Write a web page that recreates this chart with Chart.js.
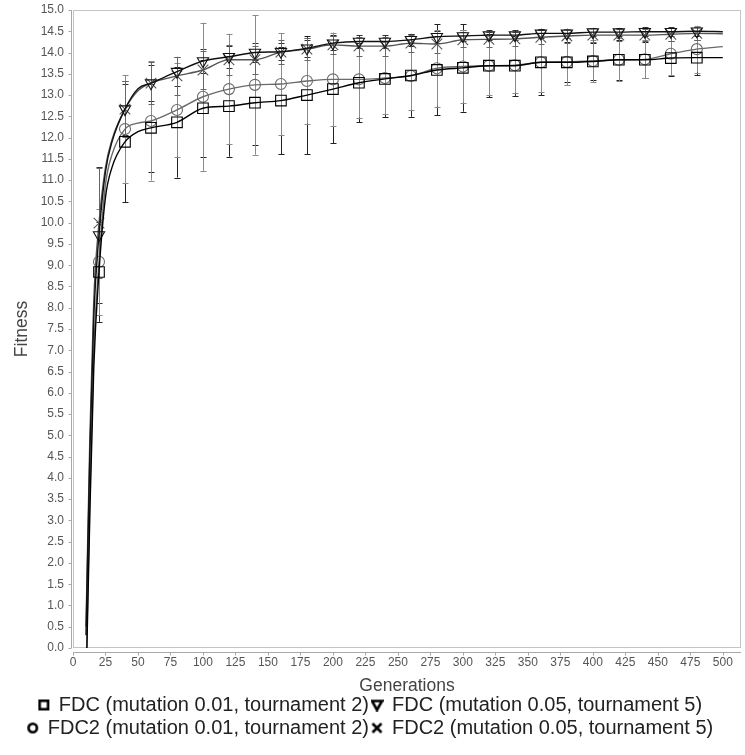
<!DOCTYPE html>
<html>
<head>
<meta charset="utf-8">
<script src="https://cdn.jsdelivr.net/npm/chart.js@4.4.1/dist/chart.umd.min.js"></script>
<style>
  html, body { margin: 0; padding: 0; background: #fff; }
  #wrap { width: 745px; height: 755px; }
</style>
</head>
<body>
<div id="wrap"><canvas id="chart" width="745" height="755"></canvas></div>
<script>
// generations where each curve is sampled
const gens = [10, 13, 16, 20, 25, 30, 40, 50, 60, 80, 100, 120, 140, 160, 180, 200, 220, 240,
  260, 280, 300, 320, 340, 360, 380, 400, 420, 440, 460, 480, 500];

// mean best fitness per generation
const fdcMut01 = [-1.0, 3.2, 6.6, 8.84, 10.6, 11.3, 11.9, 12.14, 12.23, 12.36, 12.69, 12.74, 12.82, 12.87,
  13.0, 13.14, 13.29, 13.38, 13.46, 13.59, 13.64, 13.69, 13.69, 13.77, 13.77, 13.79, 13.83, 13.83, 13.87, 13.88, 13.88];
const fdcMut05 = [0.3, 4.6, 7.8, 9.71, 11.2, 11.9, 12.67, 13.15, 13.28, 13.55, 13.8, 13.9, 14.0, 14.02,
  14.1, 14.22, 14.26, 14.26, 14.3, 14.37, 14.39, 14.41, 14.41, 14.45, 14.45, 14.48, 14.48, 14.49, 14.49, 14.5, 14.49];
const fdc2Mut01 = [-0.8, 3.6, 7.0, 9.08, 10.9, 11.6, 12.2, 12.34, 12.39, 12.65, 12.96, 13.14, 13.24, 13.26,
  13.33, 13.37, 13.37, 13.4, 13.45, 13.63, 13.67, 13.69, 13.7, 13.77, 13.78, 13.8, 13.83, 13.84, 13.97, 14.08, 14.14];
const fdc2Mut05 = [0.5, 5.0, 8.2, 9.99, 11.3, 11.95, 12.67, 13.1, 13.28, 13.45, 13.59, 13.83, 13.83, 14.01,
  14.08, 14.18, 14.15, 14.15, 14.22, 14.2, 14.3, 14.31, 14.32, 14.36, 14.39, 14.41, 14.41, 14.41, 14.43, 14.45, 14.44];

// standard deviation at the marked generations (20, 40, ... 480)
const markerGens = [20, 40, 60, 80, 100, 120, 140, 160, 180, 200, 220, 240, 260, 280, 300, 320, 340, 360, 380, 400, 420, 440, 460, 480];
const sdFdcMut01 = [1.17, 1.42, 1.03, 1.3, 1.14, 1.19, 1.0, 1.26, 1.39, 1.27, 0.93, 0.9, 0.97, 1.07, 1.03, 0.74, 0.71, 0.78, 0.47, 0.43, 0.47, 0.42, 0.41, 0.41];
const sdFdcMut05 = [1.6, 0.6, 0.43, 0.34, 0.28, 0.26, 0.22, 0.2, 0.2, 0.16, 0.15, 0.15, 0.14, 0.14, 0.13, 0.12, 0.12, 0.11, 0.11, 0.1, 0.1, 0.1, 0.1, 0.1];
const sdFdc2Mut01 = [1.25, 1.27, 1.4, 1.1, 1.74, 1.3, 1.64, 1.2, 1.0, 1.1, 0.9, 0.85, 0.8, 0.9, 0.85, 0.7, 0.65, 0.7, 0.55, 0.5, 0.5, 0.45, 0.5, 0.55];
const sdFdc2Mut05 = [1.3, 0.65, 0.5, 0.45, 0.45, 0.35, 0.33, 0.28, 0.25, 0.22, 0.22, 0.22, 0.2, 0.2, 0.18, 0.18, 0.17, 0.17, 0.16, 0.16, 0.15, 0.15, 0.15, 0.15];

// axis ticks
const xTicks = [0, 25, 50, 75, 100, 125, 150, 175, 200, 225, 250, 275, 300, 325, 350, 375, 400, 425, 450, 475, 500];
const yMin = 0, yMax = 15, yStep = 0.5;

const font = "'Liberation Sans', Arial, sans-serif";

// bold legend symbols
function icon(draw) {
  const c = document.createElement('canvas');
  c.width = 13; c.height = 13;
  const g = c.getContext('2d');
  g.strokeStyle = '#000'; g.fillStyle = '#000'; g.lineWidth = 2.6;
  draw(g);
  return c;
}
const legendIcons = [
  icon(g => g.strokeRect(2.3, 2.3, 8.4, 8.4)),
  icon(g => { g.beginPath(); g.moveTo(1.5, 2.5); g.lineTo(11.5, 2.5); g.lineTo(6.5, 11.5); g.closePath(); g.stroke(); }),
  icon(g => { g.beginPath(); g.arc(6.5, 6.5, 4.2, 0, Math.PI * 2); g.stroke(); }),
  icon(g => { g.beginPath(); g.moveTo(2, 2); g.lineTo(11, 11); g.moveTo(11, 2); g.lineTo(2, 11); g.stroke(); })
];

function series(label, values, sd, style, rot, size, color, barColor) {
  return {
    label,
    data: gens.map((g, i) => ({ x: g, y: values[i] })),
    sd,
    barColor,
    borderColor: color,
    borderWidth: 1.4,
    tension: 0.25,
    cubicInterpolationMode: 'monotone',
    fill: false,
    pointStyle: style,
    rotation: rot,
    pointRadius: c => (c.raw && markerGens.includes(c.raw.x)) ? size : 0,
    pointBorderColor: color,
    pointBackgroundColor: 'rgba(255,255,255,0)',
    pointBorderWidth: 1.1
  };
}

const datasets = [
  series('FDC (mutation 0.01, tournament 2)', fdcMut01, sdFdcMut01, 'rect', 0, 7.5, '#000', '#222'),
  series('FDC (mutation 0.05, tournament 5)', fdcMut05, sdFdcMut05, 'triangle', 180, 6.5, '#111', '#333'),
  series('FDC2 (mutation 0.01, tournament 2)', fdc2Mut01, sdFdc2Mut01, 'circle', 0, 5.5, '#6a6a6a', '#8a8a8a'),
  series('FDC2 (mutation 0.05, tournament 5)', fdc2Mut05, sdFdc2Mut05, 'crossRot', 0, 7.5, '#555', '#666')
];

// error bars, plot frame and offset axis lines
const decorations = {
  id: 'decorations',
  beforeDatasetsDraw(chart) {
    const { ctx, chartArea: a, scales: { x, y } } = chart;
    ctx.save();
    ctx.lineWidth = 1;
    ctx.strokeStyle = '#c4c4c4';
    ctx.strokeRect(a.left + 0.5, a.top + 0.5, a.right - a.left - 1, a.bottom - a.top - 1);
    ctx.strokeStyle = '#a8a8a8';
    ctx.beginPath();
    const ax = a.left - 1.5;
    ctx.moveTo(ax, a.top); ctx.lineTo(ax, a.bottom);
    y.ticks.forEach(t => {
      const py = Math.round(y.getPixelForValue(t.value)) + 0.5;
      ctx.moveTo(ax, py); ctx.lineTo(ax - 3, py);
    });
    const ay = a.bottom + 4.5;
    ctx.moveTo(a.left, ay); ctx.lineTo(a.right, ay);
    x.ticks.forEach(t => {
      const px = Math.round(x.getPixelForValue(t.value)) + 0.5;
      ctx.moveTo(px, ay); ctx.lineTo(px, ay + 3);
    });
    ctx.stroke();

    // mean +/- sd at each marked generation
    chart.data.datasets.forEach(ds => {
      ctx.strokeStyle = ds.barColor;
      ctx.beginPath();
      markerGens.forEach((g, i) => {
        const mean = ds.data.find(p => p.x === g).y;
        const px = Math.round(x.getPixelForValue(g)) + 0.5;
        const top = y.getPixelForValue(mean + ds.sd[i]);
        const bot = y.getPixelForValue(mean - ds.sd[i]);
        ctx.moveTo(px, top); ctx.lineTo(px, bot);
        ctx.moveTo(px - 3, Math.round(top) + 0.5); ctx.lineTo(px + 3, Math.round(top) + 0.5);
        ctx.moveTo(px - 3, Math.round(bot) + 0.5); ctx.lineTo(px + 3, Math.round(bot) + 0.5);
      });
      ctx.stroke();
    });
    ctx.restore();
  }
};

new Chart(document.getElementById('chart'), {
  type: 'line',
  data: { datasets },
  options: {
    responsive: false,
    animation: false,
    events: [],
    layout: { padding: { top: 0, right: 4, bottom: 7, left: 0 } },
    scales: {
      x: {
        type: 'linear',
        min: 0,
        max: 514,
        grid: { display: false, tickLength: 0 },
        border: { display: false },
        afterBuildTicks: s => { s.ticks = xTicks.map(v => ({ value: v })); },
        afterFit: s => { s.height = 44; },
        ticks: {
          autoSkip: false,
          maxRotation: 0,
          padding: 7,
          color: '#555',
          font: { family: font, size: 12 }
        },
        title: {
          display: true,
          text: 'Generations',
          color: '#444',
          padding: { top: 0, bottom: -3 },
          font: { family: font, size: 17.5, lineHeight: 1 }
        }
      },
      y: {
        min: yMin,
        max: yMax,
        grid: { display: false, tickLength: 0 },
        border: { display: false },
        afterFit: s => { s.width = 73; s.paddingTop = 10; },
        ticks: {
          stepSize: yStep,
          autoSkip: false,
          padding: 9,
          color: '#555',
          font: { family: font, size: 12 },
          callback: v => v.toFixed(1)
        },
        title: {
          display: true,
          text: 'Fitness',
          color: '#444',
          padding: { top: 12, bottom: 0 },
          font: { family: font, size: 17.5 }
        }
      }
    },
    plugins: {
      tooltip: { enabled: false },
      legend: {
        position: 'bottom',
        align: 'center',
        labels: {
          usePointStyle: true,
          boxWidth: 10,
          boxHeight: 10,
          padding: 3,
          color: '#222',
          font: { family: font, size: 20 },
          generateLabels: chart => Chart.defaults.plugins.legend.labels.generateLabels(chart).map((l, i) => ({
            ...l,
            pointStyle: legendIcons[i],
            rotation: 0,
            fontColor: '#222'
          }))
        }
      }
    }
  },
  plugins: [decorations]
});
</script>
</body>
</html>
